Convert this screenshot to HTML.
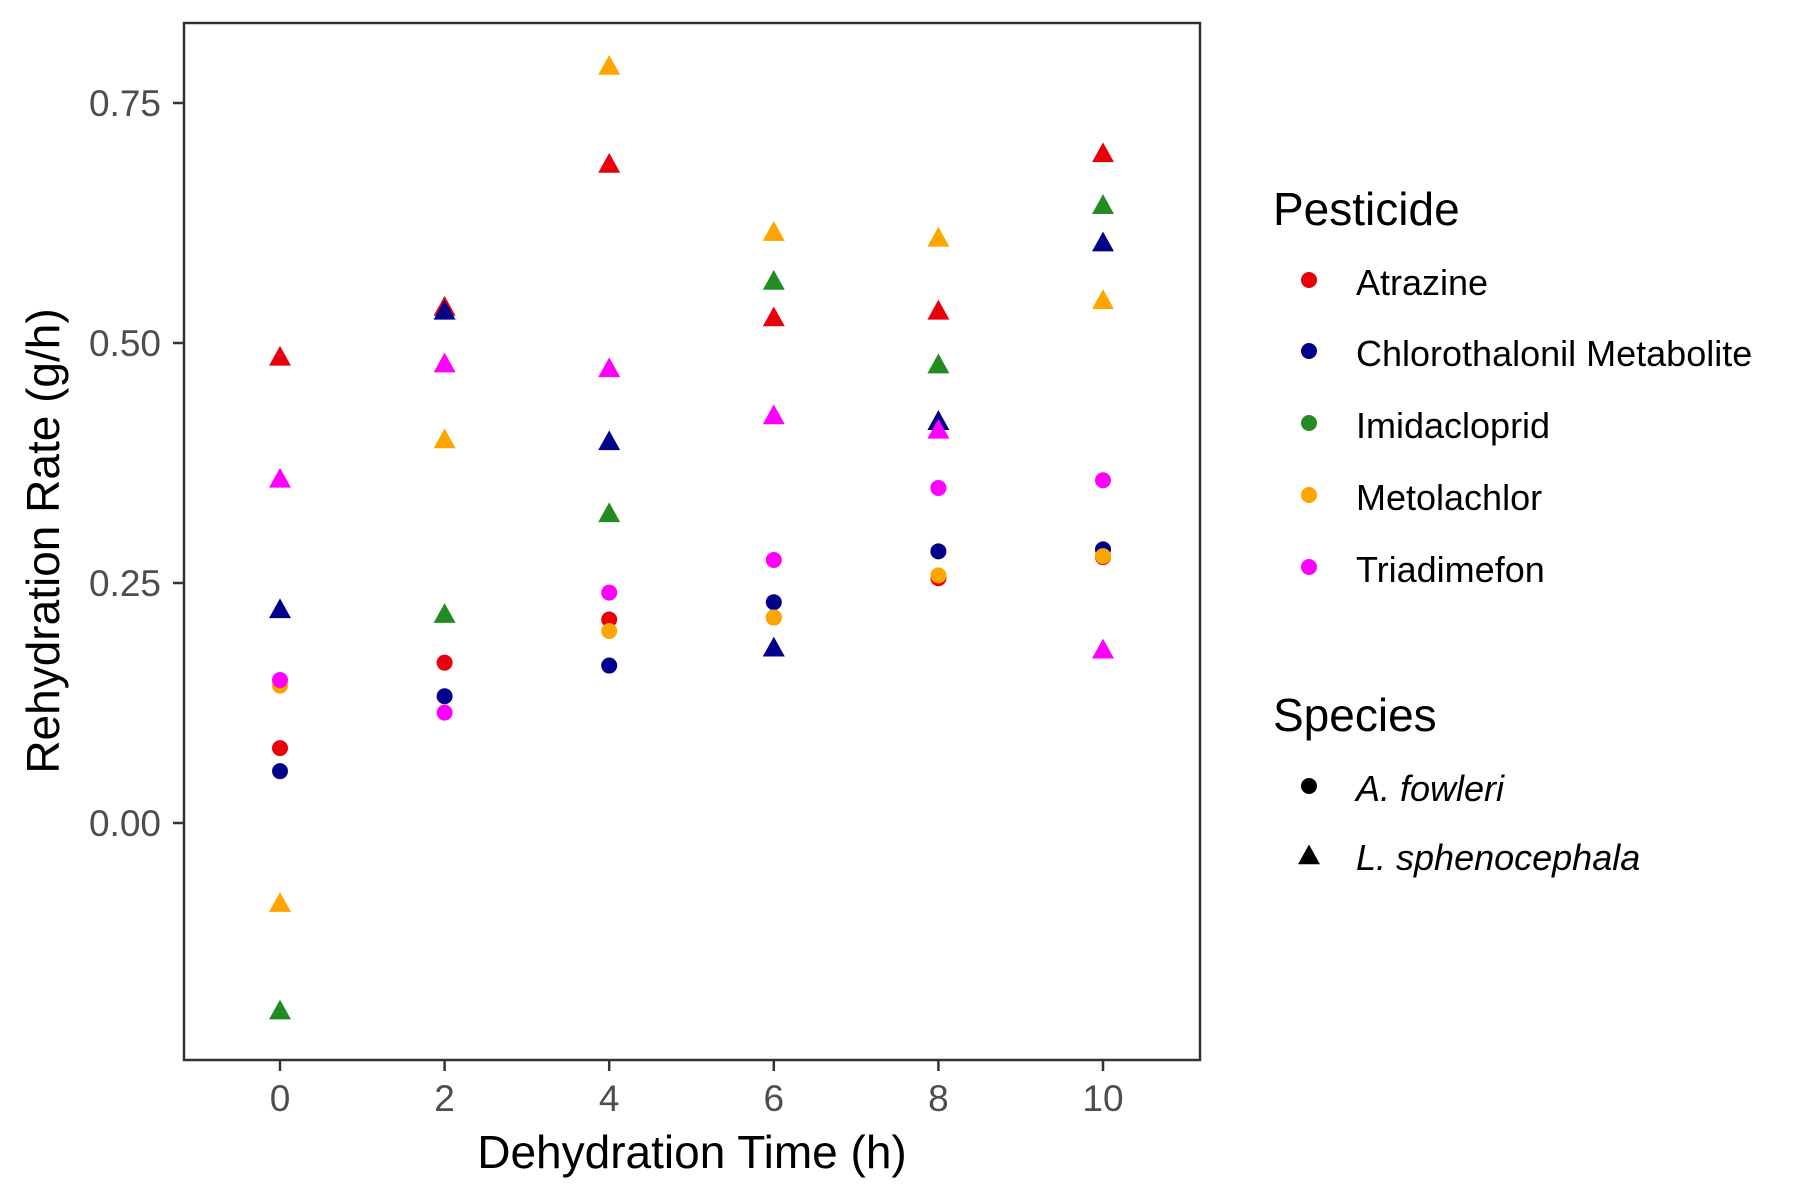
<!DOCTYPE html>
<html><head><meta charset="utf-8"><style>
html,body{margin:0;padding:0;background:#fff;}
svg{display:block;font-family:"Liberation Sans",Arial,sans-serif;}
</style></head><body>
<svg id="chart" width="1800" height="1200" viewBox="0 0 1800 1200">
<rect x="0" y="0" width="1800" height="1200" fill="#fff"/>
<g id="points"></g>
<rect x="184" y="23" width="1016" height="1037" fill="none" stroke="#333" stroke-width="2.5"/>
<g id="axes"></g>
<text x="692" y="1168" font-size="46" text-anchor="middle" fill="#000">Dehydration Time (h)</text>
<text transform="translate(59,541) rotate(-90)" font-size="46" text-anchor="middle" fill="#000">Rehydration Rate (g/h)</text>
<g id="legend">
<text x="1273" y="225" font-size="46" fill="#000">Pesticide</text>
<text x="1273" y="731" font-size="46" fill="#000">Species</text>
</g>
</svg>
<script>
const categories = [0,2,4,6,8,10];
const pesticides = ["Atrazine","Chlorothalonil Metabolite","Imidacloprid","Metolachlor","Triadimefon"];
const colors = ["#E8000B","#00008B","#228B22","#FFA500","#FF00FF"];
// A. fowleri (circles), per pesticide, per time
const circAtrazine = [0.078,0.167,0.212,0.214,0.255,0.277];
const circChloro = [0.054,0.132,0.164,0.230,0.283,0.285];
const circImida = [null,null,null,null,null,null];
const circMetol = [0.143,null,0.200,0.214,0.258,0.278];
const circTriad = [0.149,0.115,0.240,0.274,0.349,0.357];
// L. sphenocephala (triangles)
const triAtrazine = [0.485,0.537,0.686,0.526,0.533,0.697];
const triChloro = [0.222,0.533,0.397,0.182,0.418,0.604];
const triImida = [-0.196,0.217,0.322,0.564,0.477,0.643];
const triMetol = [-0.084,0.399,0.788,0.615,0.609,0.544];
const triTriad = [0.358,0.478,0.473,0.424,0.409,0.180];
const xTicks = [0,2,4,6,8,10];
const yTicks = [0,0.25,0.5,0.75];
const yTickLabels = ["0.00","0.25","0.50","0.75"];

const NS="http://www.w3.org/2000/svg";
function xs(v){return 280+82.3*v;}
function ys(v){return 823-960*v;}
const pts=document.getElementById('points');
function circle(cx,cy,col,parent){
  const c=document.createElementNS(NS,'circle');
  c.setAttribute('cx',cx);c.setAttribute('cy',cy);c.setAttribute('r',8);c.setAttribute('fill',col);
  parent.appendChild(c);return c;
}
function tri(cx,cy,col,parent){
  const p=document.createElementNS(NS,'polygon');
  const s=11;
  p.setAttribute('points',`${cx-s},${cy+s*0.75} ${cx+s},${cy+s*0.75} ${cx},${cy-s*1.05}`);
  p.setAttribute('fill',col);parent.appendChild(p);return p;
}
const circSets=[circAtrazine,circChloro,circImida,circMetol,circTriad];
const triSets=[triAtrazine,triChloro,triImida,triMetol,triTriad];
triSets.forEach((arr,i)=>arr.forEach((v,j)=>{ if(v===null) return;
  const el=tri(xs(categories[j]),ys(v),colors[i],pts);
  
  
}));
circSets.forEach((arr,i)=>arr.forEach((v,j)=>{ if(v===null) return;
  const el=circle(xs(categories[j]),ys(v),colors[i],pts);
  
  
}));
const ax=document.getElementById('axes');
xTicks.forEach(t=>{
  const l=document.createElementNS(NS,'line');
  l.setAttribute('x1',xs(t));l.setAttribute('x2',xs(t));l.setAttribute('y1',1060);l.setAttribute('y2',1071);
  l.setAttribute('stroke','#333');l.setAttribute('stroke-width',2.5);
  
  
  ax.appendChild(l);
  const tx=document.createElementNS(NS,'text');
  tx.setAttribute('x',xs(t));tx.setAttribute('y',1111);tx.setAttribute('font-size',37);
  tx.setAttribute('text-anchor','middle');tx.setAttribute('fill','#4d4d4d');tx.textContent=String(t);
  
  
  ax.appendChild(tx);
});
yTicks.forEach((t,i)=>{
  const l=document.createElementNS(NS,'line');
  l.setAttribute('x1',173);l.setAttribute('x2',184);l.setAttribute('y1',ys(t));l.setAttribute('y2',ys(t));
  l.setAttribute('stroke','#333');l.setAttribute('stroke-width',2.5);
  
  
  ax.appendChild(l);
  const tx=document.createElementNS(NS,'text');
  tx.setAttribute('x',161);tx.setAttribute('y',ys(t)+13);tx.setAttribute('font-size',37);
  tx.setAttribute('text-anchor','end');tx.setAttribute('fill','#4d4d4d');tx.textContent=yTickLabels[i];
  
  
  ax.appendChild(tx);
});
const lg=document.getElementById('legend');
const legY=[282,353,425,497,569];
pesticides.forEach((p,i)=>{
  const c=circle(1309,legY[i]-2,colors[i],lg);
  
  
  const t=document.createElementNS(NS,'text');
  t.setAttribute('x',1356);t.setAttribute('y',legY[i]+13);t.setAttribute('font-size',36);t.setAttribute('fill','#000');
  t.textContent=p;
  
  
  lg.appendChild(t);
});
const sc=circle(1309,786,'#000',lg);


const st=tri(1309,856,'#000',lg);


[["A. fowleri",801],["L. sphenocephala",870]].forEach(([s,y])=>{
  const t=document.createElementNS(NS,'text');
  t.setAttribute('x',1356);t.setAttribute('y',y);t.setAttribute('font-size',36);t.setAttribute('font-style','italic');t.setAttribute('fill','#000');
  t.textContent=s;
  
  
  lg.appendChild(t);
});
</script>
</body></html>
